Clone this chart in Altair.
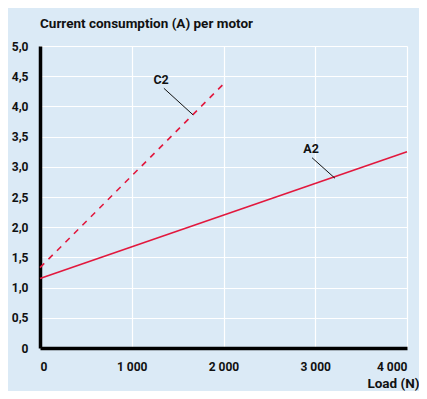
import altair as alt
import pandas as pd

# Series data (Load N -> Current A)
a2_load = [0, 4000]
a2_current = [1.15, 3.25]
c2_load = [0, 2000]
c2_current = [1.33, 4.37]

# Annotation labels and leader lines (data coordinates)
label_names = ["C2", "A2"]
label_load = [1320, 2955]
label_current = [4.44, 3.29]
leader_load_start = [1350, 2965]
leader_current_start = [4.30, 3.15]
leader_load_end = [1668, 3215]
leader_current_end = [3.86, 2.81]

y_ticks = [0, 0.5, 1.0, 1.5, 2.0, 2.5, 3.0, 3.5, 4.0, 4.5, 5.0]
x_ticks = [0, 1000, 2000, 3000, 4000]

RED = "#e2183d"
BG = "#dbeaf6"
FONT = "Roboto"

lines = pd.DataFrame({
    "load": a2_load + c2_load,
    "current": a2_current + c2_current,
    "series": ["A2"] * len(a2_load) + ["C2"] * len(c2_load),
})
labels = pd.DataFrame({"name": label_names, "load": label_load, "current": label_current})
leaders = pd.DataFrame({
    "load": leader_load_start, "current": leader_current_start,
    "x2": leader_load_end, "y2": leader_current_end,
})

xscale = alt.Scale(domain=[0, 4000], nice=False, zero=True)
yscale = alt.Scale(domain=[0, 5], nice=False)

x_axis = alt.Axis(
    values=x_ticks,
    labelExpr="replace(format(datum.value, ','), ',', ' ')",
    title="Load (N)",
    titleAnchor="end",
    titleAlign="right",
    titleX=379,
    titleY=35,
    titleBaseline="middle",
    titleFontSize=13.5,
    labelPadding=13,
    labelOverlap=False,
)
y_axis = alt.Axis(
    values=y_ticks,
    labelExpr="datum.value == 0 ? '0' : replace(format(datum.value, '.1f'), '.', ',')",
    title=None,
    labelPadding=12,
    labelOverlap=False,
    tickCount=11,
)

X = alt.X("load:Q", scale=xscale, axis=x_axis)
Y = alt.Y("current:Q", scale=yscale, axis=y_axis)

base = alt.Chart(lines)
a2 = base.transform_filter(alt.datum.series == "A2").mark_line(
    color=RED, strokeWidth=1.6
).encode(x=X, y=Y)
c2 = base.transform_filter(alt.datum.series == "C2").mark_line(
    color=RED, strokeWidth=1.6, strokeDash=[6, 6]
).encode(x=X, y=Y)
leader = alt.Chart(leaders).mark_rule(color="#111111", strokeWidth=1).encode(
    x=X, y=Y, x2="x2:Q", y2="y2:Q",
)
text = alt.Chart(labels).mark_text(
    font=FONT, fontWeight="bold", fontSize=12.5, color="#111111"
).encode(x=X, y=Y, text="name:N")

chart = alt.layer(a2, c2, leader, text).properties(
    width=367,
    height=302,
    title=alt.TitleParams(
        "Current consumption (A) per motor",
        anchor="start", frame="group", font=FONT, fontSize=13.5,
        fontWeight="bold", color="#111111", offset=10,
    ),
    padding={"left": 32, "top": 38, "right": 12, "bottom": 43},
    autosize=alt.AutoSizeParams(type="none"),
    background=BG,
).configure_view(
    stroke=None, fill=BG
).configure_axis(
    domainColor="#000000", domainWidth=3.5, ticks=False,
    gridColor="#ffffff", gridWidth=1.2, gridOpacity=1,
    labelFont=FONT, labelFontWeight="bold", labelFontSize=12, labelColor="#111111",
    titleFont=FONT, titleFontWeight="bold", titleColor="#111111",
)

chart.save("out.html", embed_options={"renderer": "svg", "actions": False})
